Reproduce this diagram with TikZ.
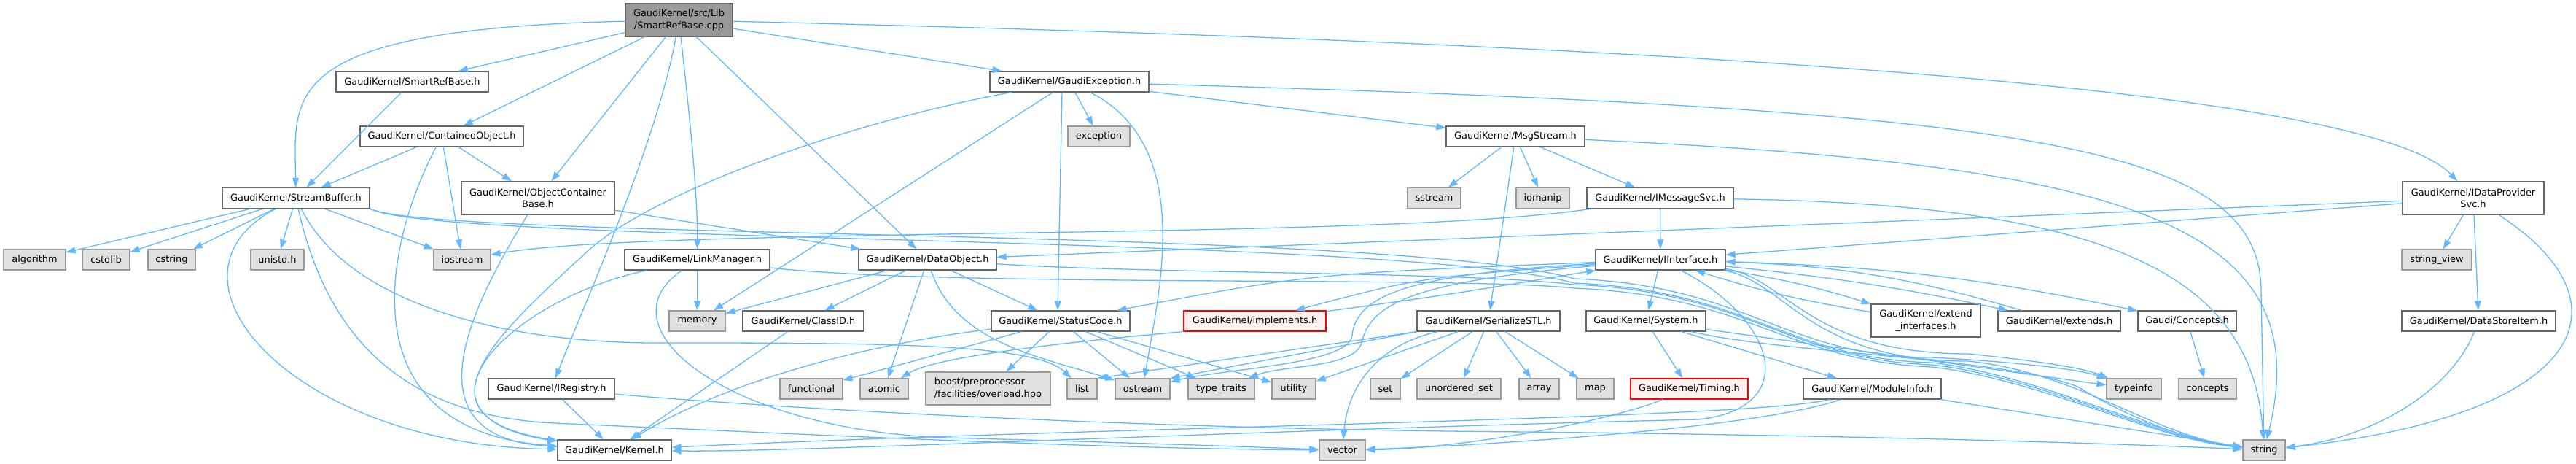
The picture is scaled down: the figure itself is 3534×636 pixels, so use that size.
\documentclass[tikz,border=0pt]{standalone}
\usepackage{fontspec}
\setmainfont{DejaVu Sans}
\usetikzlibrary{arrows.meta}
\definecolor{edgec}{HTML}{63B8FF}
\definecolor{boxb}{HTML}{666666}
\definecolor{sysb}{HTML}{999999}
\definecolor{sysf}{HTML}{E0E0E0}
\definecolor{redf}{HTML}{FFF0F0}
\definecolor{rootf}{HTML}{999999}
\begin{document}
\begin{tikzpicture}[x=1pt,y=-1pt,
  nb/.style={draw=boxb, fill=white, line width=1.2pt, inner sep=0pt, minimum height=28pt, font=\fontsize{12.9}{16.5}\selectfont, align=center},
  sysn/.style={nb, draw=sysb, fill=sysf},
  redn/.style={nb, draw=red, fill=redf},
  rootn/.style={nb, fill=rootf},
  dep/.style={draw=edgec, line width=1.3pt, -{Triangle[length=13pt,width=9pt]}}]
\fill[white] (0,0) rectangle (3534,636);
\useasboundingbox (0,0) rectangle (3534,636);
% nodes
\node[rootn, minimum width=147pt, minimum height=45pt] (R) at (931.5,27.5) {GaudiKernel/src/Lib\\/SmartRefBase.cpp};
\node[nb, minimum width=209pt] (SRB) at (565.5,112) {GaudiKernel/SmartRefBase.h};
\node[nb, minimum width=224pt] (CO) at (606,187) {GaudiKernel/ContainedObject.h};
\node[nb, minimum width=202pt] (SB) at (406,271.5) {GaudiKernel/StreamBuffer.h};
\node[nb, minimum width=210pt, minimum height=45pt] (OCB) at (738,271.5) {GaudiKernel/ObjectContainer\\Base.h};
\node[nb, minimum width=218pt] (GE) at (1467,112) {GaudiKernel/GaudiException.h};
\node[nb, minimum width=199pt] (LM) at (956.5,356) {GaudiKernel/LinkManager.h};
\node[nb, minimum width=189pt] (DO) at (1272.5,356) {GaudiKernel/DataObject.h};
\node[nb, minimum width=190pt] (MS) at (2079,187) {GaudiKernel/MsgStream.h};
\node[sysn, minimum width=85pt] (exception) at (1507.5,187) {exception};
\node[sysn, minimum width=73pt] (sstream) at (1967.5,271.5) {sstream};
\node[sysn, minimum width=73pt] (iomanip) at (2116.5,271.5) {iomanip};
\node[nb, minimum width=201pt] (IMS) at (2277.5,271.5) {GaudiKernel/IMessageSvc.h};
\node[nb, minimum width=194pt, minimum height=45pt] (IDP) at (3393,271.5) {GaudiKernel/IDataProvider\\Svc.h};
\node[sysn, minimum width=85pt] (algorithm) at (47.5,356) {algorithm};
\node[sysn, minimum width=65pt] (cstdlib) at (145.5,356) {cstdlib};
\node[sysn, minimum width=65pt] (cstring) at (235.5,356) {cstring};
\node[sysn, minimum width=73pt] (unistd) at (380.5,356) {unistd.h};
\node[sysn, minimum width=78pt] (iostream) at (634,356) {iostream};
\node[nb, minimum width=178pt] (II) at (2278,356) {GaudiKernel/IInterface.h};
\node[sysn, minimum width=96pt] (stringview) at (3343,356) {string\_view};
\node[sysn, minimum width=77pt] (memory) at (956.5,440) {memory};
\node[nb, minimum width=166pt] (ClassID) at (1102,440) {GaudiKernel/ClassID.h};
\node[nb, minimum width=190pt] (SC) at (1455,440) {GaudiKernel/StatusCode.h};
\node[redn, minimum width=195pt] (IMP) at (1721.5,440) {GaudiKernel/implements.h};
\node[nb, minimum width=196pt] (SSTL) at (2042,440) {GaudiKernel/SerializeSTL.h};
\node[nb, minimum width=164pt] (SYS) at (2258,440) {GaudiKernel/System.h};
\node[nb, minimum width=150pt, minimum height=45pt] (EI) at (2642,439.5) {GaudiKernel/extend\\\_interfaces.h};
\node[nb, minimum width=168pt] (EXT) at (2825,440) {GaudiKernel/extends.h};
\node[nb, minimum width=135pt] (CON) at (3000.5,440) {Gaudi/Concepts.h};
\node[nb, minimum width=211pt] (DSI) at (3400.5,440) {GaudiKernel/DataStoreItem.h};
\node[nb, minimum width=173pt] (IReg) at (756.5,533) {GaudiKernel/IRegistry.h};
\node[sysn, minimum width=86pt] (functional) at (1113,533) {functional};
\node[sysn, minimum width=66pt] (atomic) at (1213,533) {atomic};
\node[sysn, minimum width=171pt, minimum height=45pt, align=left] (boost) at (1355.5,532.5) {boost/preprocessor\\/facilities/overload.hpp};
\node[sysn, minimum width=41pt] (list) at (1484.5,533) {list};
\node[sysn, minimum width=75pt] (ostream) at (1567.5,533) {ostream};
\node[sysn, minimum width=91pt] (typetraits) at (1675.5,533) {type\_traits};
\node[sysn, minimum width=60pt] (utility) at (1775,533) {utility};
\node[sysn, minimum width=41pt] (set) at (1900.5,533) {set};
\node[sysn, minimum width=115pt] (unorderedset) at (2001.5,533) {unordered\_set};
\node[sysn, minimum width=55pt] (array) at (2111.5,533) {array};
\node[sysn, minimum width=51pt] (map) at (2188.5,533) {map};
\node[redn, minimum width=161pt] (TIM) at (2317.5,533) {GaudiKernel/Timing.h};
\node[nb, minimum width=189pt] (MI) at (2568.5,533) {GaudiKernel/ModuleInfo.h};
\node[sysn, minimum width=75pt] (typeinfo) at (2927.5,533) {typeinfo};
\node[sysn, minimum width=79pt] (concepts) at (3028.5,533) {concepts};
\node[nb, minimum width=156pt] (Kernel) at (843,617) {GaudiKernel/Kernel.h};
\node[sysn, minimum width=63pt] (vector) at (1841.5,617) {vector};
\node[sysn, minimum width=58pt] (string) at (3106,617) {string};
% root edges
\draw[dep] (R) .. controls (380,40) and (404,130) .. (SB);
\draw[dep] (R) -- (SRB);
\draw[dep] (R) -- (CO);
\draw[dep] (R) -- (OCB);
\draw[dep] (R) .. controls (900,200) and (800,420) .. (IReg);
\draw[dep] (R) .. controls (945,150) and (957,260) .. (LM);
\draw[dep] (R) -- (DO);
\draw[dep] (R) -- (GE);
\draw[dep] (R) .. controls (2300,60) and (3250,120) .. (IDP);
% SmartRefBase, ContainedObject
\draw[dep] (SRB) -- (SB);
\draw[dep] (CO) -- (SB);
\draw[dep] (CO) -- (OCB);
\draw[dep] (CO) -- (iostream);
\draw[dep] (CO) .. controls (530,330) and (470,590) .. (Kernel);
% StreamBuffer
\draw[dep] (SB) -- (algorithm);
\draw[dep] (SB) -- (cstdlib);
\draw[dep] (SB) -- (cstring);
\draw[dep] (SB) -- (unistd);
\draw[dep] (SB) -- (iostream);
\draw[dep] (SB) .. controls (200,380) and (400,610) .. (Kernel);
\draw[dep] (SB) .. controls (480,420) and (700,470) .. (900,470) .. controls (1200,470) and (1420,470) .. (list);
\draw[dep] (SB) .. controls (450,470) and (560,570) .. (760,580) .. controls (1100,595) and (1500,615) .. (vector);
\draw[dep] (SB.south east) .. controls (600,330) and (1900,310) .. (2160,382) .. controls (2400,392) and (2450,490) .. (2650,490) .. controls (2750,495) and (2850,505) .. (typeinfo);
\draw[dep] (SB.south east) .. controls (600,335) and (1900,320) .. (2160,388) .. controls (2400,398) and (2450,492) .. (2650,497) .. controls (2800,515) and (2950,595) .. (string);
% ObjectContainerBase
\draw[dep] (OCB) -- (DO);
\draw[dep] (OCB) .. controls (640,430) and (560,600) .. (Kernel);
% LinkManager
\draw[dep] (LM) .. controls (700,410) and (540,570) .. (Kernel);
\draw[dep] (LM) -- (memory);
\draw[dep] (LM) .. controls (820,450) and (1000,590) .. (1300,600) .. controls (1600,608) and (1750,614) .. (vector);
\draw[dep] (LM) .. controls (1300,394) and (2000,378) .. (2160,395) .. controls (2400,405) and (2450,495) .. (2650,503) .. controls (2800,520) and (2950,600) .. (string);
% IRegistry, ClassID
\draw[dep] (IReg) -- (Kernel);
\draw[dep] (IReg) .. controls (1200,570) and (1700,590) .. (2100,592) .. controls (2600,598) and (2900,608) .. (string);
\draw[dep] (ClassID) -- (Kernel);
% DataObject
\draw[dep] (DO) -- (memory);
\draw[dep] (DO) -- (ClassID);
\draw[dep] (DO) -- (atomic);
\draw[dep] (DO) -- (SC);
\draw[dep] (DO) .. controls (1310,470) and (1430,490) .. (ostream);
\draw[dep] (DO) .. controls (1600,376) and (2000,372) .. (2160,390) .. controls (2400,400) and (2450,493) .. (2650,500) .. controls (2800,517) and (2950,598) .. (string);
% GaudiException
\draw[dep] (GE) .. controls (1150,170) and (880,270) .. (800,350) .. controls (680,460) and (560,570) .. (Kernel);
\draw[dep] (GE) -- (memory);
\draw[dep] ([xshift=-10pt]GE.south) -- ([xshift=-4pt]SC.north);
\draw[dep] (GE) -- (exception);
\draw[dep] (GE) .. controls (1640,200) and (1590,400) .. (ostream);
\draw[dep] (GE) .. controls (2800,150) and (3102,200) .. (3102,400) -- (string);
\draw[dep] (GE) -- (MS);
% MsgStream
\draw[dep] (MS) -- (sstream);
\draw[dep] (MS) -- (iomanip);
\draw[dep] (MS) -- (IMS);
\draw[dep] (MS) -- (SSTL);
\draw[dep] (MS) .. controls (2900,225) and (3185,300) .. (string);
% IMessageSvc
\draw[dep] (IMS) .. controls (1900,330) and (900,310) .. (iostream);
\draw[dep] (IMS) -- (II);
\draw[dep] (IMS) .. controls (2900,280) and (3090,380) .. (string);
% IDataProviderSvc
\draw[dep] (IDP) -- (DO);
\draw[dep] (IDP) -- (II);
\draw[dep] (IDP) -- (stringview);
\draw[dep] (IDP) -- (DSI);
\draw[dep] (IDP) .. controls (3620,420) and (3540,570) .. (string);
\draw[dep] (DSI) .. controls (3360,540) and (3250,600) .. (string);
% IInterface
\draw[dep] (II) .. controls (1950,380) .. (IMP);
\draw[dep] (IMP) .. controls (1980,405) .. (II);
\draw[dep] (II) .. controls (1800,375) .. (SC);
\draw[dep] (II) .. controls (2440,440) and (2470,560) .. (2330,575) .. controls (1700,590) and (1100,620) .. (Kernel);
\draw[dep] (II) -- (SYS);
\draw[dep] (II) to[bend left=4] (EI);
\draw[dep] (EI) to[bend left=4] (II);
\draw[dep] (II) to[bend left=3] (EXT);
\draw[dep] (EXT) to[bend right=7] (II);
\draw[dep] (II) to[bend left=5] (CON);
\draw[dep] (II) .. controls (1950,375) and (1860,400) .. (1855,460) .. controls (1850,500) and (1680,505) .. (ostream);
\draw[dep] (II) .. controls (1960,385) and (1880,410) .. (1868,470) .. controls (1858,505) and (1760,500) .. (typetraits);
\draw[dep] (II) .. controls (2450,380) and (2480,485) .. (2700,485) .. controls (2800,495) and (2860,505) .. (typeinfo);
\draw[dep] (II) .. controls (2450,385) and (2480,495) .. (2700,495) .. controls (2850,510) and (2950,595) .. (string);
% System
\draw[dep] (SYS) -- (TIM);
\draw[dep] (SYS) -- (MI);
\draw[dep] (SYS) -- (typeinfo);
\draw[dep] (SYS) .. controls (2450,485) and (2750,490) .. (2850,530) .. controls (2900,560) and (2980,600) .. (string);
\draw[dep] (TIM) .. controls (2200,580) and (2000,615) .. (vector);
% ModuleInfo
\draw[dep] (MI) .. controls (2400,575) and (1500,585) .. (Kernel);
\draw[dep] (MI) .. controls (2400,590) and (2000,612) .. (vector);
\draw[dep] (MI) -- (string);
% SerializeSTL
\draw[dep] (SSTL.south west) -- (list.north east);
\draw[dep] (SSTL.south west) -- (ostream.north east);
\draw[dep] (SSTL) -- (utility);
\draw[dep] (SSTL) .. controls (1900,470) and (1850,520) .. (vector);
\draw[dep] (SSTL) -- (set);
\draw[dep] (SSTL) -- (unorderedset);
\draw[dep] (SSTL) -- (array);
\draw[dep] (SSTL) -- (map);
% StatusCode
\draw[dep] (SC) .. controls (1200,470) and (1000,520) .. (Kernel);
\draw[dep] (SC) -- (functional);
\draw[dep] (SC) -- (boost);
\draw[dep] (SC) -- (ostream);
\draw[dep] (SC) -- (typetraits);
\draw[dep] (SC) -- (utility);
% implements, Concepts
\draw[dep] (IMP.south west) .. controls (1450,470) and (1280,490) .. (atomic);
\draw[dep] (CON) -- (concepts);
\end{tikzpicture}
\end{document}
